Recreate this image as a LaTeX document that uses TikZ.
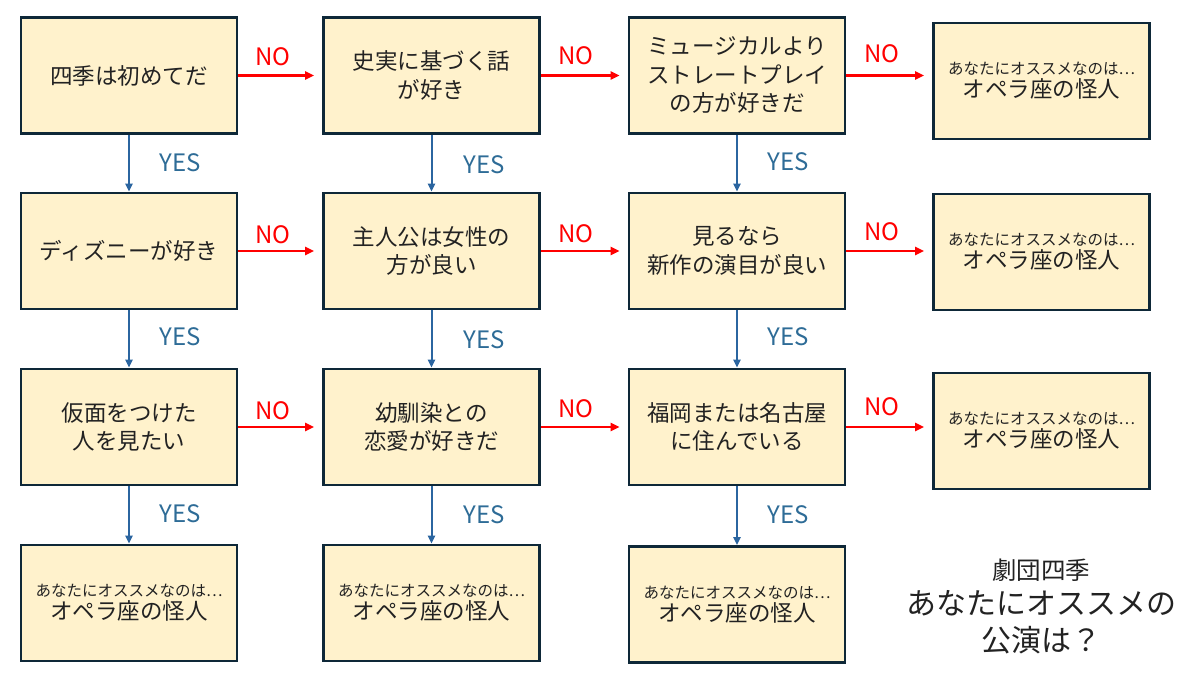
\documentclass[tikz,border=0pt]{standalone}
\usepackage{fontspec}
\setmainfont{Noto Sans CJK JP}
\usetikzlibrary{arrows.meta}

\definecolor{boxfill}{HTML}{FFF2CC}
\definecolor{boxline}{HTML}{0E2838}
\definecolor{yesblue}{HTML}{2B65A0}
\definecolor{yestext}{HTML}{2E6C97}
\definecolor{nored}{HTML}{FF0000}
\definecolor{inktext}{HTML}{222222}

\tikzset{
  qbox/.style={draw=boxline, fill=boxfill, line width=2.6pt, minimum width=216pt,
    minimum height=116pt, inner sep=0pt, align=center, text=inktext,
    font=\fontsize{22.5}{28.5}\selectfont},
  abox/.style={qbox, font=\fontsize{22.5}{23}\selectfont},
  yesarrow/.style={draw=yesblue, line width=2pt, -{Triangle[length=8pt,width=7pt]}},
  noarrow/.style={draw=nored, line width=2.4pt, -{Triangle[length=9pt,width=8pt]}, shorten >=8pt},
  yeslabel/.style={text=yestext, font=\fontsize{24}{26}\selectfont},
  nolabel/.style={text=nored, font=\fontsize{24}{26}\selectfont},
}

\newcommand{\osusume}{{\fontsize{15.5}{18}\selectfont あなたにオススメなのは…}\\オペラ座の怪人}

\begin{document}
\begin{tikzpicture}[x=1pt,y=-1pt]

\useasboundingbox (0,0) rectangle (1192,679);

% questions, column by column
\node[qbox] (a1) at (129,75.5) {四季は初めてだ};
\node[qbox] (a2) at (129,251) {ディズニーが好き};
\node[qbox] (a3) at (129,427) {仮面をつけた\\人を見たい};
\node[abox] (a4) at (129,603) {\osusume};

\node[qbox] (b1) at (431.5,75.5) {史実に基づく話\\が好き};
\node[qbox] (b2) at (431.5,251) {主人公は女性の\\方が良い};
\node[qbox] (b3) at (431.5,427) {幼馴染との\\恋愛が好きだ};
\node[abox] (b4) at (431.5,603) {\osusume};

\node[qbox] (c1) at (737,75.5) {ミュージカルより\\ストレートプレイ\\の方が好きだ};
\node[qbox] (c2) at (737,251) {見るなら\\新作の演目が良い};
\node[qbox] (c3) at (737,427) {福岡または名古屋\\に住んでいる};
\node[abox] (c4) at (737,604.5) {\osusume};

\node[abox] (d1) at (1041.5,81) {\osusume};
\node[abox] (d2) at (1041.5,252) {\osusume};
\node[abox] (d3) at (1041.5,431) {\osusume};

% YES
\foreach \u/\v in {a1/a2,a2/a3,a3/a4,b1/b2,b2/b3,b3/b4,c1/c2,c2/c3,c3/c4}
  \draw[yesarrow] (\u.south) -- (\v.north);

% NO
\foreach \u/\v in {a1/b1,a2/b2,a3/b3,b1/c1,b2/c2,b3/c3}
  \draw[noarrow] (\u.east) -- (\v.west);
\foreach \u/\v in {c1/d1,c2/d2,c3/d3}
  \draw[noarrow] (\u.east) -- (\u.east -| \v.west);

\foreach \x/\y [count=\i] in {180/163,484/165,788/162,180/337,484/340,788/337,180/514,484/515,788/515}
  \node[yeslabel] (yes\i) at (\x,\y) {YES};
\foreach \x/\y [count=\i] in {273/57,576/56,882/54,273/235,576/234,882/232,273/411,576/409,882/407}
  \node[nolabel] (no\i) at (\x,\y) {NO};

\node[text=inktext, font=\fontsize{24.5}{26}\selectfont] (title1) at (1041,570) {劇団四季};
\node[text=inktext, font=\fontsize{30}{32}\selectfont] (title2) at (1041,603) {あなたにオススメの};
\node[text=inktext, font=\fontsize{30}{32}\selectfont] (title3) at (1041,640) {公演は？};

\end{tikzpicture}
\end{document}
